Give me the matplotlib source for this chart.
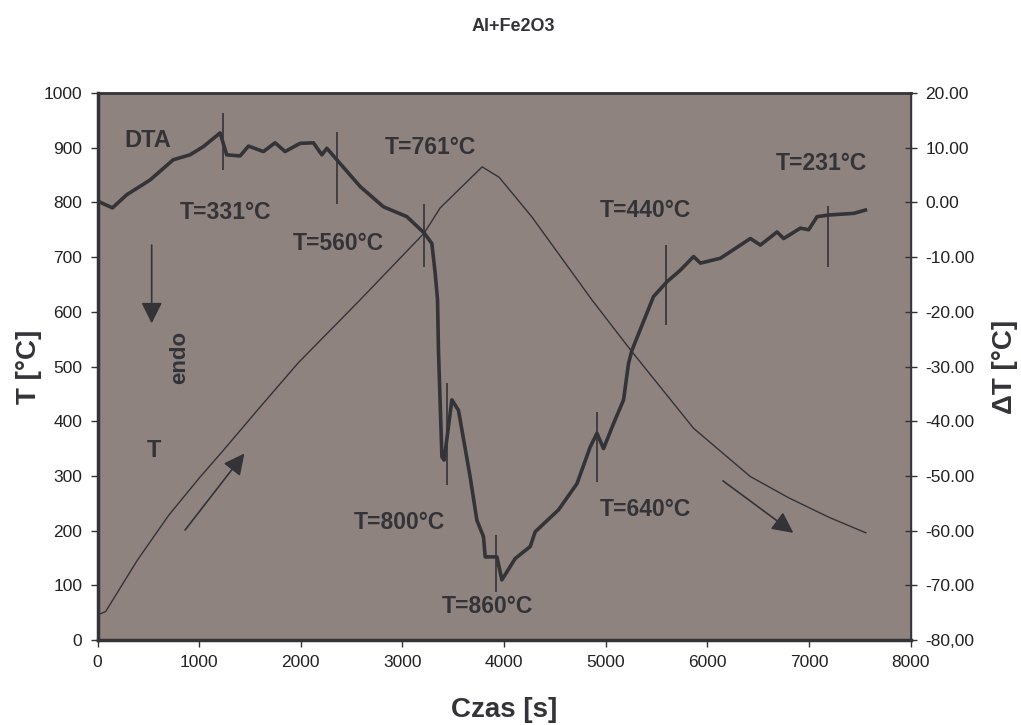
import matplotlib
matplotlib.use("Agg")
import matplotlib.pyplot as plt

plt.rcParams['font.family'] = ['Liberation Sans', 'DejaVu Sans']

# Krzywa temperatury T [°C] w funkcji czasu
czas_T = [0, 80, 392, 700, 1000, 1225, 1600, 1971, 2584, 3214, 3371, 3784,
          3951, 4275, 4863, 5245, 5864, 6421, 6800, 7200, 7559]
temp_T = [46, 52, 146, 228, 296, 344, 426, 506, 622, 744, 790, 865,
          846, 773, 622, 530, 387, 299, 260, 224, 196]

# Krzywa DTA, delta T [°C]
czas_dta = [29, 147, 287, 517, 745, 910, 1041, 1206, 1271, 1403, 1485, 1632,
            1747, 1845, 1993, 2124, 2207, 2256, 2354, 2584, 2813, 3043, 3214,
            3289, 3322, 3345, 3354, 3388, 3410, 3486, 3551, 3666, 3732, 3797,
            3814, 3929, 3978, 4109, 4257, 4306, 4535, 4717, 4847, 4913, 4978,
            5077, 5175, 5224, 5258, 5470, 5602, 5733, 5864, 5931, 6128, 6423,
            6521, 6685, 6750, 6915, 6996, 7079, 7193, 7439, 7554]
delta_T = [0.0, -1.0, 1.4, 4.1, 7.8, 8.7, 10.2, 12.7, 8.7, 8.5, 10.3, 9.3,
           10.9, 9.3, 10.8, 10.9, 8.7, 9.9, 7.8, 2.9, -0.8, -2.6, -5.6,
           -7.5, -13.0, -17.8, -27.0, -46.5, -47.1, -36.1, -38.0, -50.2, -58.1, -61.1,
           -64.8, -64.8, -69.0, -65.1, -62.9, -60.2, -56.2, -51.4, -44.7, -42.2, -45.0,
           -40.4, -36.1, -29.4, -27.0, -17.2, -14.5, -12.4, -9.9, -11.1, -10.2, -6.6,
           -7.8, -5.4, -6.6, -4.7, -5.0, -2.6, -2.3, -2.0, -1.4]

# Pionowe znaczniki na krzywej DTA (czas, T od, T do)
znacznik_x = [1238, 2354, 3214, 3443, 3919, 4913, 5592, 7187]
znacznik_od = [859, 797, 682, 283, 88, 289, 576, 682]
znacznik_do = [964, 929, 797, 469, 192, 416, 722, 793]

# Opisy temperatur (tekst, czas, T)
opisy = ['T=331°C', 'T=560°C', 'T=761°C', 'T=440°C', 'T=231°C',
         'T=800°C', 'T=860°C', 'T=640°C']
opis_x = [1258, 2367, 3278, 5389, 7121, 2968, 3839, 5389]
opis_y = [782, 725, 901, 786, 871, 214, 62, 239]

# Strzałki (start -> koniec)
strz_x0 = [533, 861, 6153]
strz_y0 = [722, 201, 291]
strz_x1 = [533, 1445, 6845]
strz_y1 = [579, 341, 196]

x_ticks = [0, 1000, 2000, 3000, 4000, 5000, 6000, 7000, 8000]
y_ticks = [0, 100, 200, 300, 400, 500, 600, 700, 800, 900, 1000]
dt_ticks = [-80, -70, -60, -50, -40, -30, -20, -10, 0, 10, 20]
dt_labels = ['-80,00', '-70.00', '-60.00', '-50.00', '-40.00', '-30.00',
             '-20.00', '-10.00', '0.00', '10.00', '20.00']

kolor = '#333338'
tlo = '#8f837f'

fig = plt.figure(figsize=(10.21, 7.25), dpi=100)
ax = fig.add_axes([0.0955, 0.1172, 0.7965, 0.7545])
ax.set_facecolor(tlo)
ax2 = ax.twinx()

ax.plot(czas_T, temp_T, color=kolor, lw=1.0)
ax2.plot(czas_dta, delta_T, color=kolor, lw=2.6, solid_joinstyle='round')

ax.vlines(znacznik_x, znacznik_od, znacznik_do, color=kolor, lw=1.2)

for txt, x, y in zip(opisy, opis_x, opis_y):
    ax.text(x, y, txt, ha='center', va='center', fontsize=16.5,
            fontweight='bold', color=kolor)
ax.text(494, 914, 'DTA', ha='center', va='center', fontsize=17,
        fontweight='bold', color=kolor)
ax.text(556, 346, 'T', ha='center', va='center', fontsize=17,
        fontweight='bold', color=kolor)
ax.text(812, 517, 'endo', ha='center', va='center', fontsize=16,
        fontweight='bold', color=kolor, rotation=90)

for x0, y0, x1, y1 in zip(strz_x0, strz_y0, strz_x1, strz_y1):
    ax.annotate('', xy=(x1, y1), xytext=(x0, y0),
                arrowprops=dict(arrowstyle='-|>', mutation_scale=32,
                                color=kolor, lw=1.2, shrinkA=0, shrinkB=0))

ax.set_xlim(0, 8000)
ax.set_ylim(0, 1000)
ax2.set_ylim(-80, 20)
ax.set_xticks(x_ticks)
ax.set_yticks(y_ticks)
ax2.set_yticks(dt_ticks)
ax2.set_yticklabels(dt_labels)

ax.tick_params(axis='y', direction='out', length=5, width=1, labelsize=12.5,
               pad=6, colors=kolor, labelcolor='#222222')
ax.tick_params(axis='x', direction='out', length=5, width=1, labelsize=12.5,
               pad=6, colors=kolor, labelcolor='#222222')
ax2.tick_params(axis='y', direction='inout', length=9, width=1, labelsize=12.5,
                pad=6, colors=kolor, labelcolor='#222222')

for sp in ['left', 'bottom']:
    ax.spines[sp].set_linewidth(2.5)
    ax.spines[sp].set_color(kolor)
ax.spines['top'].set_linewidth(2.0)
ax.spines['top'].set_color(kolor)
ax.spines['right'].set_linewidth(1.0)
ax.spines['right'].set_color(kolor)
for sp in ax2.spines.values():
    sp.set_visible(False)
ax2.spines['right'].set_visible(True)
ax2.spines['right'].set_linewidth(1.2)
ax2.spines['right'].set_color(kolor)

ax.set_xlabel('Czas [s]', fontsize=20, fontweight='bold', color=kolor)
ax.set_ylabel('T [°C]', fontsize=20, fontweight='bold', color=kolor)
ax2.set_ylabel('ΔT [°C]', fontsize=20, fontweight='bold', color=kolor)
ax.xaxis.set_label_coords(0.5, -0.104)
ax.yaxis.set_label_coords(-0.068, 0.5)
ax2.yaxis.set_label_coords(1.100, 0.5)

fig.text(0.503, 0.963, 'Al+Fe2O3', ha='center', va='center', fontsize=13,
         fontweight='bold', color=kolor)

fig.savefig('out.png', dpi=100)
